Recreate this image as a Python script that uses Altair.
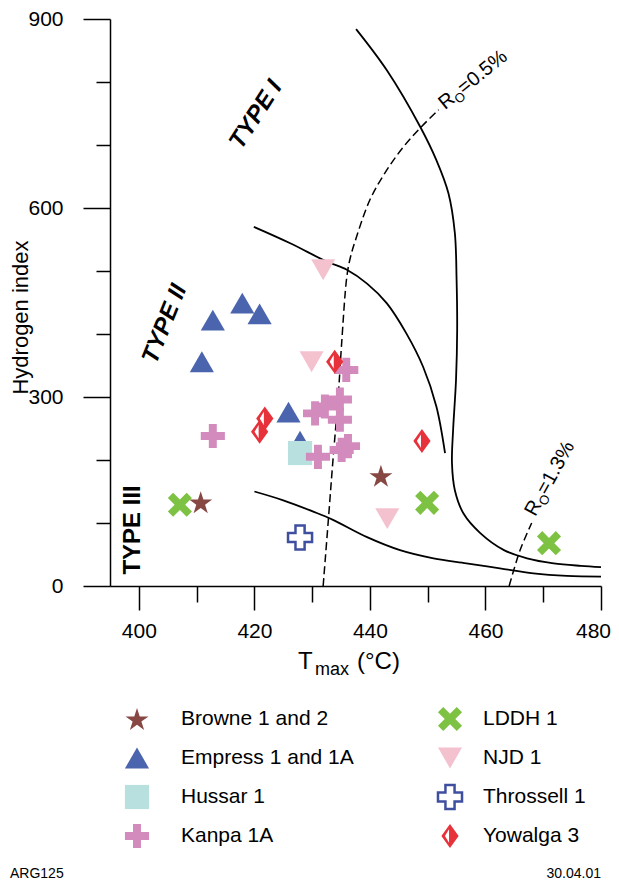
import math
import altair as alt
import pandas as pd

# ---------------- data ----------------
series_names = ["Browne 1 and 2", "Empress 1 and 1A", "Hussar 1", "Kanpa 1A",
                "LDDH 1", "NJD 1", "Throssell 1", "Yowalga 3"]

browne_tmax = [410.7, 441.9]
browne_hi = [133, 175]
empress_tmax = [410.9, 412.8, 417.9, 420.9, 425.9, 427.9]
empress_hi = [356, 422, 449, 432, 276, 230]
hussar_tmax = [427.9]
hussar_hi = [211]
kanpa_tmax = [412.8, 430.5, 432.2, 434.8, 434.8, 435.9, 431.0, 435.1, 436.2]
kanpa_hi = [238, 274, 285, 296, 264, 343, 205, 216, 222]
lddh_tmax = [407.1, 449.9, 471.0]
lddh_hi = [129, 132, 68]
njd_tmax = [431.9, 429.9, 443.0]
njd_hi = [502, 356, 107]
throssell_tmax = [427.9]
throssell_hi = [77]
yowalga_tmax = [420.9, 421.8, 433.9, 449.0]
yowalga_hi = [245, 266, 356, 230]

# kerogen type boundaries
type1_tmax = [437.6, 442.9, 448.7, 451.5, 453.6, 454.7, 455.0, 455.1, 454.9, 454.4,
              454.2, 454.7, 456.2, 459.1, 463.2, 467.2, 471.8, 476.5, 480.0]
type1_hi = [884, 819, 729, 676, 623, 560, 486, 406, 327, 248,
            195, 152, 115, 84, 57, 44, 36, 32, 30]
type2_tmax = [419.9, 426.2, 432.5, 436.0, 439.5, 442.9, 446.3, 449.2, 451.5, 453.0]
type2_hi = [570, 544, 515, 502, 480, 449, 401, 348, 285, 211]
type3_tmax = [420.0, 425.0, 430.2, 433.6, 439.4, 445.2, 451.0, 456.7, 462.5, 468.3, 474.1, 480.0]
type3_hi = [150, 136, 118, 105, 78, 57, 44, 36, 28, 20, 16, 15]
# vitrinite reflectance iso-lines
ro05_tmax = [431.9, 432.8, 433.6, 434.5, 435.1, 436.0, 436.6, 437.6, 440.0, 442.9, 445.8, 448.7, 451.9]
ro05_hi = [0, 105, 200, 300, 385, 491, 521, 552, 613, 660, 697, 727, 756]
ro13_tmax = [464.1, 466.0, 468.0]
ro13_hi = [0, 57, 100]

x_ticks = [400, 410, 420, 430, 440, 450, 460, 470, 480]
y_ticks = [0, 100, 200, 300, 400, 500, 600, 700, 800, 900]

# ---------------- tables ----------------
pt_rows = []
for name, xs, ys in zip(series_names,
                        [browne_tmax, empress_tmax, hussar_tmax, kanpa_tmax, lddh_tmax, njd_tmax, throssell_tmax, yowalga_tmax],
                        [browne_hi, empress_hi, hussar_hi, kanpa_hi, lddh_hi, njd_hi, throssell_hi, yowalga_hi]):
    for xv, yv in zip(xs, ys):
        pt_rows.append({"series": name, "tmax": xv, "hi": yv})
points_df = pd.DataFrame(pt_rows)

def curve_rows(name, xs, ys):
    return [{"curve": name, "i": i, "tmax": xv, "hi": yv} for i, (xv, yv) in enumerate(zip(xs, ys))]

solid_df = pd.DataFrame(curve_rows("I", type1_tmax, type1_hi) + curve_rows("II", type2_tmax, type2_hi)
                        + curve_rows("III", type3_tmax, type3_hi))
dash_df = pd.DataFrame(curve_rows("0.5", ro05_tmax, ro05_hi) + curve_rows("1.3", ro13_tmax, ro13_hi))

# legend order: column-major in two columns
legend_df = pd.DataFrame({"series": series_names,
                          "col": [0, 0, 0, 0, 1, 1, 1, 1],
                          "row": [0, 1, 2, 3, 0, 1, 2, 3]})

type_df = pd.DataFrame({"label": ["TYPE I", "TYPE II"], "tmax": [420.3, 404.5], "hi": [748, 416],
                        "ang": [303, 292]})

# ---------------- glyphs ----------------
def fmt(pts):
    return "M" + " L".join(f"{x:.3f},{y:.3f}" for x, y in pts) + " Z"

star_pts = []
for k in range(10):
    a = math.radians(-90 + 36 * k)
    r = 1.0 if k % 2 == 0 else 0.382
    star_pts.append((r * math.cos(a), r * math.sin(a) + 0.095))
STAR = fmt(star_pts)

def plus(w):
    return fmt([(-w, -1), (w, -1), (w, -w), (1, -w), (1, w), (w, w), (w, 1), (-w, 1),
                (-w, w), (-1, w), (-1, -w), (-w, -w)])

def xshape(w):
    base = [(-w, -1), (w, -1), (w, -w), (1, -w), (1, w), (w, w), (w, 1), (-w, 1),
            (-w, w), (-1, w), (-1, -w), (-w, -w)]
    s = math.sqrt(2)
    m = (1 + w) / s
    return fmt([((x - y) / s / m, (x + y) / s / m) for x, y in base])

TRI_UP = "M0,-0.866 L1,0.866 L-1,0.866 Z"
TRI_DOWN = "M-1,-0.866 L1,-0.866 L0,0.866 Z"
DIAMOND = "M0,-1 L0.72,0 L0,1 L-0.72,0 Z M-0.08,-0.56 L-0.42,0 L-0.08,0.56 Z"

shape_range = [STAR, TRI_UP, "square", plus(0.33), xshape(0.28), TRI_DOWN, plus(0.38), DIAMOND]
fill_range = ["#874843", "#4A64AE", "#B8E0DF", "#D38BBE", "#7DC243", "#F4C2CF", "#FFFFFF", "#E8323B"]
stroke_range = ["#874843", "#4A64AE", "#B8E0DF", "#D38BBE", "#7DC243", "#F4C2CF", "#3F4FA0", "#E8323B"]
size_range = [585, 576, 361, 340, 360, 529, 484, 576]

FONT = "Liberation Sans"
XS = alt.Scale(domain=[395, 480], nice=False, zero=False)
YS = alt.Scale(domain=[0, 900], nice=False, zero=False)

sym_enc = dict(
    shape=alt.Shape("series:N", scale=alt.Scale(domain=series_names, range=shape_range), legend=None),
    fill=alt.Fill("series:N", scale=alt.Scale(domain=series_names, range=fill_range), legend=None),
    stroke=alt.Stroke("series:N", scale=alt.Scale(domain=series_names, range=stroke_range), legend=None),
    strokeWidth=alt.condition("datum.series === 'Throssell 1'", alt.value(2.5), alt.value(0)),
    size=alt.Size("series:N", scale=alt.Scale(domain=series_names, range=size_range), legend=None),
)

x_axis = alt.Axis(values=x_ticks, labelExpr="datum.value % 20 === 0 ? datum.label : ''",
                  tickSize={"condition": {"test": "datum.value % 20 === 0", "value": 24}, "value": 16},
                  labelOffset={"condition": {"test": "datum.value === 480", "value": -8}, "value": 0},
                  labelPadding=10, labelFontSize=21, labelFont=FONT, labelColor="black",
                  domainColor="black", domainWidth=1.5, tickColor="black", tickWidth=1.5,
                  grid=False, title=None, labelFlush=False)
y_axis = alt.Axis(values=y_ticks, labelExpr="datum.value % 300 === 0 ? datum.label : ''",
                  tickSize={"condition": {"test": "datum.value % 300 === 0", "value": 27}, "value": 14},
                  labelPadding=20, labelFontSize=21, labelFont=FONT, labelColor="black",
                  domainColor="black", domainWidth=1.5, tickColor="black", tickWidth=1.5,
                  grid=False, title="Hydrogen index", titleFontSize=22, titleFont=FONT,
                  titleFontWeight="normal", titleColor="black", titleAngle=270,
                  titleX=-90, titleY=298, titleAlign="center", titleBaseline="middle", labelFlush=False)

solid = alt.Chart(solid_df).mark_line(color="black", strokeWidth=1.8, interpolate="catmull-rom").encode(
    x=alt.X("tmax:Q", scale=XS, axis=x_axis),
    y=alt.Y("hi:Q", scale=YS, axis=y_axis),
    detail="curve:N", order="i:Q")

dashed = alt.Chart(dash_df).mark_line(color="black", strokeWidth=1.5, strokeDash=[8, 4],
                                      interpolate="catmull-rom").encode(
    x=alt.X("tmax:Q", scale=XS), y=alt.Y("hi:Q", scale=YS), detail="curve:N", order="i:Q")

pts = alt.Chart(points_df).mark_point(filled=False, opacity=1, fillOpacity=1, strokeOpacity=1).encode(
    x=alt.X("tmax:Q", scale=XS), y=alt.Y("hi:Q", scale=YS), **sym_enc)

type12 = alt.Chart(type_df).mark_text(font=FONT, fontSize=24, fontWeight="bold", fontStyle="italic",
                                      color="black", align="center", baseline="middle").encode(
    x=alt.X("tmax:Q", scale=XS), y=alt.Y("hi:Q", scale=YS), text="label:N", angle=alt.Angle("ang:Q", scale=None))
type3 = alt.Chart(pd.DataFrame({"label": ["TYPE III"], "tmax": [399.0], "hi": [89]})).mark_text(
    font=FONT, fontSize=24, fontWeight="bold", color="black", align="center", baseline="middle", angle=270).encode(
    x=alt.X("tmax:Q", scale=XS), y=alt.Y("hi:Q", scale=YS), text="label:N")

ro_df = pd.DataFrame({"tmax": [453.0, 468.6], "hi": [755, 109], "ang": [321, 299],
                      "val": ["=0.5%", "=1.3%"]})
ro_base = alt.Chart(ro_df)
ro_R = ro_base.mark_text(font=FONT, fontSize=20, align="left", baseline="alphabetic", color="black").encode(
    x=alt.X("tmax:Q", scale=XS), y=alt.Y("hi:Q", scale=YS), angle=alt.Angle("ang:Q", scale=None),
    text=alt.value("R"))
ro_O = ro_base.mark_text(font=FONT, fontSize=13, align="left", baseline="alphabetic", color="black",
                         dx=14.5, dy=4).encode(
    x=alt.X("tmax:Q", scale=XS), y=alt.Y("hi:Q", scale=YS), angle=alt.Angle("ang:Q", scale=None),
    text=alt.value("O"))
ro_V = ro_base.mark_text(font=FONT, fontSize=20, align="left", baseline="alphabetic", color="black",
                         dx=24.5).encode(
    x=alt.X("tmax:Q", scale=XS), y=alt.Y("hi:Q", scale=YS), angle=alt.Angle("ang:Q", scale=None),
    text="val:N")

xt1 = alt.Chart(pd.DataFrame({"t": ["T"]})).mark_text(font=FONT, fontSize=24, align="left",
                                                      baseline="alphabetic", color="black").encode(
    x=alt.value(188), y=alt.value(650), text="t:N")
xt2 = alt.Chart(pd.DataFrame({"t": ["max"]})).mark_text(font=FONT, fontSize=18, align="left",
                                                        baseline="alphabetic", color="black").encode(
    x=alt.value(205), y=alt.value(656), text="t:N")
xt3 = alt.Chart(pd.DataFrame({"t": ["(°C)"]})).mark_text(font=FONT, fontSize=24, align="left",
                                                         baseline="alphabetic", color="black").encode(
    x=alt.value(247), y=alt.value(650), text="t:N")
foot_l = alt.Chart(pd.DataFrame({"t": ["ARG125"]})).mark_text(font=FONT, fontSize=14, align="left",
                                                              baseline="alphabetic", color="black").encode(
    x=alt.value(-100), y=alt.value(859), text="t:N")
foot_r = alt.Chart(pd.DataFrame({"t": ["30.04.01"]})).mark_text(font=FONT, fontSize=14, align="right",
                                                                baseline="alphabetic", color="black").encode(
    x=alt.value(491), y=alt.value(859), text="t:N")

main = alt.layer(solid, dashed, pts, type12, type3, ro_R, ro_O, ro_V, xt1, xt2, xt3, foot_l, foot_r)

leg_pts = alt.Chart(legend_df).mark_point(filled=False, opacity=1, fillOpacity=1, strokeOpacity=1).encode(
    x=alt.X("col:Q", scale=alt.Scale(domain=[0, 1], range=[27, 340]), axis=None),
    y=alt.Y("row:Q", scale=alt.Scale(domain=[0, 3], range=[700, 817]), axis=None),
    **sym_enc)
leg_txt = alt.Chart(legend_df).mark_text(font=FONT, fontSize=21, align="left", baseline="middle",
                                         color="black").encode(
    x=alt.X("col:Q", scale=alt.Scale(domain=[0, 1], range=[71, 373]), axis=None),
    y=alt.Y("row:Q", scale=alt.Scale(domain=[0, 3], range=[700, 817]), axis=None),
    text="series:N")

chart = alt.layer(main, leg_pts, leg_txt).resolve_scale(x="independent", y="independent").properties(
    width=491, height=567,
    autosize=alt.AutoSizeParams(type="none"),
    padding={"left": 102, "top": 11, "right": 10, "bottom": 295},
    background="white",
).configure_view(stroke=None)

chart.save("out.html", embed_options={"renderer": "svg", "actions": False})
